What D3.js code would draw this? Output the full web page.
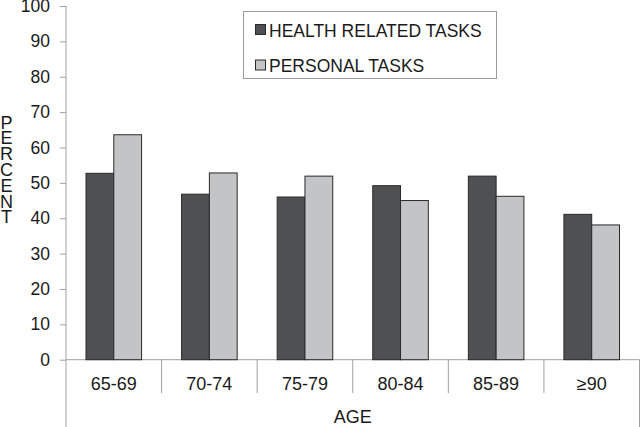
<!DOCTYPE html>
<html>
<head>
<meta charset="utf-8">
<script src="https://cdn.jsdelivr.net/npm/d3@7"></script>
<style>
  html, body { margin: 0; padding: 0; background: #fff; }
  svg { display: block; }
  text { font-family: "Liberation Sans", Arial, sans-serif; fill: #1a1a1a; }
</style>
</head>
<body>
<svg id="chart" width="640" height="427"></svg>
<script>
const categories = ["65-69", "70-74", "75-79", "80-84", "85-89", "\u226590"];
const seriesNames = ["HEALTH RELATED TASKS", "PERSONAL TASKS"];
const healthValues = [52.7, 46.8, 46.0, 49.2, 51.9, 41.1];
const personalValues = [63.6, 52.8, 51.9, 45.0, 46.2, 38.1];
const yTicks = [0, 10, 20, 30, 40, 50, 60, 70, 80, 90, 100];
const seriesColors = ["#4e5052", "#c3c4c6"];

(function () {
const svg = d3.select("#chart");
const W = 640, H = 427;
const mLeft = 66, mRight = 639.5, mTop = 6, mBottom = 359.7;

const x = d3.scaleBand().domain(categories).range([mLeft, mRight]).padding(0);
const xs = d3.scaleBand().domain(seriesNames).range([20, x.bandwidth() - 20]).padding(0);
const y = d3.scaleLinear().domain([0, 100]).range([mBottom, mTop]);

const data = categories.map((c, i) => ({ cat: c, vals: [healthValues[i], personalValues[i]] }));

// Y axis
const yAxis = d3.axisLeft(y).tickValues(yTicks).tickSize(6).tickPadding(10).tickFormat(d3.format("d"));
const gy = svg.append("g").attr("transform", `translate(${mLeft},0)`).call(yAxis);
gy.select(".domain").remove();
gy.selectAll(".tick line").attr("stroke", "#a0a0a0");
gy.selectAll(".tick text").style("font-size", "17.5px").attr("fill", "#1a1a1a")
  .style("font-family", "'Liberation Sans', Arial, sans-serif");

// frame lines
const lineColor = "#a0a0a0";
svg.append("line").attr("x1", mLeft).attr("x2", mLeft).attr("y1", y(100)).attr("y2", H)
  .attr("stroke", lineColor).attr("stroke-width", 1);
svg.append("line").attr("x1", mLeft).attr("x2", mRight).attr("y1", y(0)).attr("y2", y(0))
  .attr("stroke", lineColor).attr("stroke-width", 1);
const seps = categories.slice(1).map(c => x(c));
svg.selectAll(".sep").data(seps).enter().append("line")
  .attr("x1", d => d).attr("x2", d => d).attr("y1", y(0)).attr("y2", 393)
  .attr("stroke", lineColor).attr("stroke-width", 1);
svg.append("line").attr("x1", mRight).attr("x2", mRight).attr("y1", y(0)).attr("y2", H)
  .attr("stroke", lineColor).attr("stroke-width", 1);

// bars
const groups = svg.selectAll(".grp").data(data).enter().append("g")
  .attr("transform", d => `translate(${x(d.cat)},0)`);
groups.selectAll("rect").data(d => d.vals.map((v, j) => ({ v, s: seriesNames[j], j })))
  .enter().append("rect")
  .attr("x", d => xs(d.s))
  .attr("y", d => y(d.v))
  .attr("width", xs.bandwidth())
  .attr("height", d => y(0) - y(d.v))
  .attr("fill", d => seriesColors[d.j])
  .attr("stroke", "#2a2a2a")
  .attr("stroke-width", 1);

// category labels
svg.selectAll(".catlab").data(categories).enter().append("text")
  .attr("x", d => x(d) + x.bandwidth() / 2)
  .attr("y", 389.5)
  .attr("text-anchor", "middle")
  .style("font-size", "18px")
  .text(d => d);

// axis titles
svg.append("text").attr("x", (mLeft + mRight) / 2).attr("y", 422.5)
  .attr("text-anchor", "middle").style("font-size", "18px").text("AGE");

const yTitle = "PERCENT".split("");
svg.append("text").attr("text-anchor", "middle").style("font-size", "18px")
  .selectAll("tspan").data(yTitle).enter().append("tspan")
  .attr("x", 6.5)
  .attr("y", (d, i) => 128.5 + i * 15.8)
  .text(d => d);

// legend
const lg = svg.append("g");
lg.append("rect").attr("x", 243.5).attr("y", 11.5).attr("width", 253).attr("height", 67)
  .attr("fill", "#fff").attr("stroke", "#9a9a9a").attr("stroke-width", 1);
const legendRows = seriesNames.map((n, i) => ({ n, i }));
const lr = lg.selectAll(".lr").data(legendRows).enter().append("g")
  .attr("transform", d => `translate(255,${24 + d.i * 35.5})`);
lr.append("rect").attr("x", 0.5).attr("y", 0.5).attr("width", 10).attr("height", 10)
  .attr("fill", d => seriesColors[d.i]).attr("stroke", "#2a2a2a").attr("stroke-width", 1);
lr.append("text").attr("x", 14).attr("y", 12.7).style("font-size", "17.5px").text(d => d.n);
})();
</script>
</body>
</html>
